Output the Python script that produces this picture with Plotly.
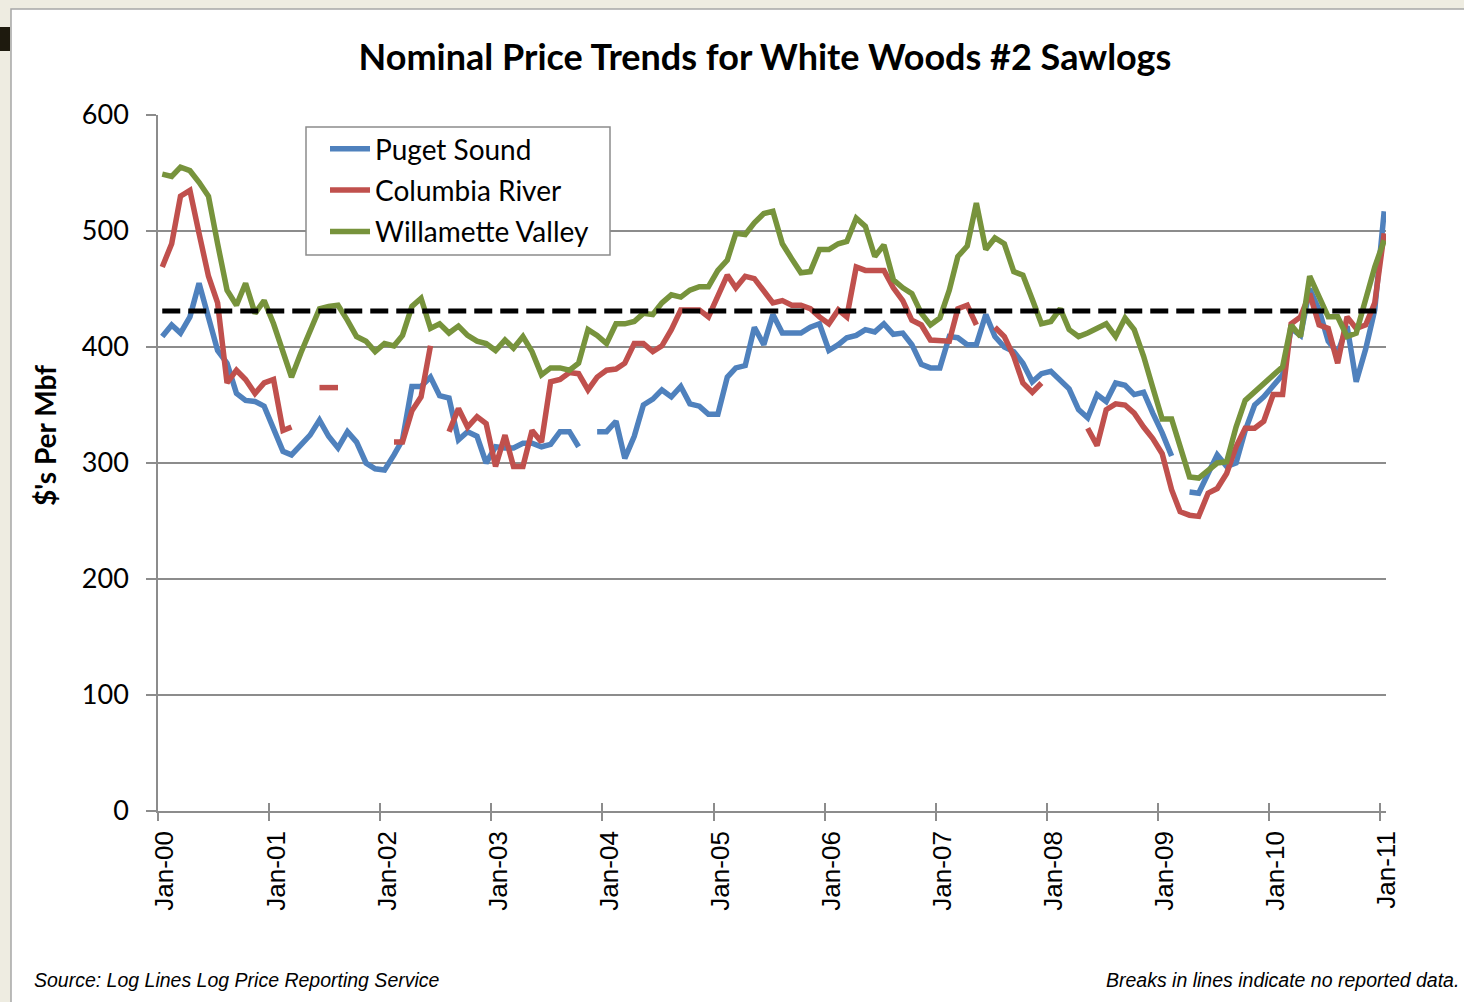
import pandas as pd
import plotly.graph_objects as go

# ---------------- data (monthly, Jan-2000 .. Jan-2011) ----------------
MONTHS = pd.date_range("2000-01-01", "2011-01-01", freq="MS") + pd.Timedelta(days=14)

PUGET_SOUND = [
    409, 419, 412, 426, 455, 426, 397, 386, 360, 354, 353, 349,   # 2000
    328, 310, 307, 316, 324, 337, 323, 313, 327, 318, 300, 295,   # 2001
    294, 307, 320, 366, 366, 374, 358, 356, 320, 327, 323, 300,   # 2002
    314, 313, 313, 317, 317, 314, 316, 327, 327, 314, None, 327,  # 2003
    327, 336, 304, 323, 350, 355, 363, 357, 366, 351, 349, 342,   # 2004
    342, 374, 382, 384, 417, 402, 428, 412, 412, 412, 417, 420,   # 2005
    397, 402, 408, 410, 415, 413, 420, 411, 412, 402, 385, 382,   # 2006
    382, 409, 408, 402, 402, 428, 409, 400, 396, 386, 370, 377,   # 2007
    379, 372, 364, 346, 339, 359, 353, 369, 367, 359, 361, 343,   # 2008
    326, 306, None, 275, 274, 291, 307, 297, 300, 328, 350, 357,  # 2009
    366, 376, 416, 410, 450, 432, 405, 395, 418, 370, 398, 432,   # 2010
    517,                                                          # 2011
]

COLUMBIA_RIVER = [
    469, 489, 530, 535, 498, 461, 438, 369, 380, 372, 360, 369,       # 2000
    372, 328, 331, None, None, 365, 365, 365, None, None, None, None, # 2001
    None, 318, 318, 345, 357, 401, None, 327, 347, 331, 340, 334,     # 2002
    297, 324, 297, 297, 328, 318, 370, 372, 378, 377, 363, 374,       # 2003
    380, 381, 386, 403, 403, 396, 401, 415, 432, 432, 432, 426,       # 2004
    443, 462, 451, 461, 459, 448, 438, 440, 436, 436, 433, 426,       # 2005
    420, 432, 426, 469, 466, 466, 466, 451, 440, 423, 419, 406,       # 2006
    405, 405, 433, 436, 419, None, 417, 409, 392, 369, 361, 369,      # 2007
    None, None, None, None, 330, 315, 346, 351, 350, 343, 331, 321,   # 2008
    308, 277, 258, 255, 254, 274, 278, 291, 314, 330, 330, 336,       # 2009
    359, 359, 420, 426, 446, 419, 416, 386, 426, 416, 419, 438,       # 2010
    498,                                                              # 2011
]

WILLAMETTE_VALLEY = [
    549, 547, 555, 552, 542, 530, 489, 449, 436, 455, 429, 440,   # 2000
    420, 395, 374, 395, 415, 433, 435, 436, 423, 409, 405, 396,   # 2001
    403, 401, 410, 435, 442, 416, 420, 412, 418, 410, 405, 403,   # 2002
    397, 406, 399, 409, 396, 376, 382, 382, 380, 386, 415, 410,   # 2003
    403, 420, 420, 422, 429, 428, 438, 445, 443, 449, 452, 452,   # 2004
    466, 475, 498, 497, 507, 515, 517, 489, 476, 464, 465, 484,   # 2005
    484, 489, 491, 511, 504, 478, 488, 458, 451, 446, 429, 419,   # 2006
    425, 449, 478, 487, 524, 484, 494, 489, 465, 462, 441, 420,   # 2007
    422, 433, 415, 409, 412, 416, 420, 409, 425, 415, 392, 365,   # 2008
    338, 338, 314, 288, 287, 294, 300, 301, 331, 354, 361, 369,   # 2009
    376, 383, 419, 409, 461, 443, 426, 426, 409, 412, 441, 469,   # 2010
    492,                                                          # 2011
]

AVERAGE_PRICE = 431

SERIES_NAMES = ["Puget Sound", "Columbia River", "Willamette Valley"]
SERIES_COLORS = ["#4F81BD", "#C0504D", "#77933C"]

TICK_DATES = ["2000-01-01", "2001-01-01", "2002-01-01", "2003-01-01", "2004-01-01",
              "2005-01-01", "2006-01-01", "2007-01-01", "2008-01-01", "2009-01-01",
              "2010-01-01", "2011-01-01"]
TICK_LABELS = ["Jan-00", "Jan-01", "Jan-02", "Jan-03", "Jan-04", "Jan-05",
               "Jan-06", "Jan-07", "Jan-08", "Jan-09", "Jan-10", "Jan-11"]
Y_TICKS = [0, 100, 200, 300, 400, 500, 600]

TITLE = "Nominal Price Trends for White Woods #2 Sawlogs"
Y_TITLE = "$'s Per Mbf"
SOURCE_NOTE = "Source: Log Lines Log Price Reporting Service"
BREAK_NOTE = "Breaks in lines indicate no reported data."

# ---------------- layout geometry (pixels) ----------------
W, H = 1464, 1002
ML, MR, MT, MB = 158, 78, 115, 191
PW, PH = W - ML - MR, H - MT - MB


def px(x):
    return (x - ML) / PW


def py(y):
    return (H - MB - y) / PH


GRID = "#8C8C8C"
X_RANGE = ["2000-01-01", "2011-01-21"]

fig = go.Figure()
for name, vals, col in zip(SERIES_NAMES, [PUGET_SOUND, COLUMBIA_RIVER, WILLAMETTE_VALLEY], SERIES_COLORS):
    fig.add_trace(go.Scatter(
        x=MONTHS, y=vals, name=name, mode="lines", legendgroup=name,
        line=dict(color=col, width=5.5), connectgaps=False,
    ))

fig.add_trace(go.Scatter(
    x=MONTHS, y=[AVERAGE_PRICE] * len(MONTHS), mode="lines", xaxis="x2",
    line=dict(color="black", width=5, dash="18px,8px"), showlegend=False,
    hoverinfo="skip",
))

fig.update_layout(
    width=W, height=H,
    margin=dict(l=ML, r=MR, t=MT, b=MB),
    paper_bgcolor="#EEECE1",
    plot_bgcolor="white",
    font=dict(family="Lato", color="black"),
    title=dict(text=TITLE, x=px(765), xref="paper", xanchor="center",
               y=1 - 57 / H, yref="container", yanchor="middle",
               font=dict(family="Lato", size=36, color="black", weight="bold")),
    xaxis=dict(
        type="date", range=X_RANGE,
        tickmode="array", tickvals=TICK_DATES, ticktext=TICK_LABELS,
        tickangle=-90, ticks="outside", ticklen=8, tickwidth=1.5, tickcolor=GRID,
        tickfont=dict(family="Liberation Sans", size=26, color="black"),
        ticklabelstandoff=0, ticklabelshift=7,
        showline=True, linecolor=GRID, linewidth=1.5,
        showgrid=False, zeroline=False,
    ),
    xaxis2=dict(
        type="date", range=X_RANGE, overlaying="x", matches="x", anchor="y",
        tickmode="array", tickvals=TICK_DATES,
        ticks="inside", ticklen=8, tickwidth=1.5, tickcolor=GRID,
        showticklabels=False, showline=False, showgrid=False, zeroline=False,
    ),
    yaxis=dict(
        range=[0, 600], tickmode="array", tickvals=Y_TICKS,
        ticks="outside", ticklen=10, tickwidth=1.5, tickcolor=GRID,
        tickfont=dict(family="Lato", size=27, color="black"),
        ticklabelstandoff=12,
        showline=True, linecolor=GRID, linewidth=1.5,
        showgrid=True, gridcolor=GRID, gridwidth=1.5, zeroline=False,
    ),
    legend=dict(
        x=px(325), y=py(124), xanchor="left", yanchor="top",
        bgcolor="rgba(0,0,0,0)", borderwidth=0,
        font=dict(family="Lato", size=28, color="black"),
        itemwidth=40, tracegroupgap=2,
    ),
    showlegend=True,
    shapes=[
        dict(type="rect", xref="paper", yref="paper", layer="below",
             x0=px(11), x1=px(W + 10), y0=py(H + 10), y1=py(9),
             fillcolor="white", line=dict(color="#A6A6A6", width=1.5)),
        dict(type="rect", xref="paper", yref="paper", layer="below",
             x0=px(-2), x1=px(10), y0=py(51), y1=py(27),
             fillcolor="#1E1A0E", line=dict(width=0)),
        dict(type="rect", xref="paper", yref="paper", layer="above",
             x0=px(306), x1=px(610), y0=py(255), y1=py(127),
             fillcolor="white", line=dict(color="#8C8C8C", width=1.5)),
    ],
    annotations=[
        dict(text=Y_TITLE, xref="paper", yref="paper", x=px(45), y=py(436),
             textangle=-90, showarrow=False, xanchor="center", yanchor="middle",
             font=dict(family="Lato", size=28, color="black", weight="bold")),
        dict(text="<i>" + SOURCE_NOTE + "</i>", xref="paper", yref="paper",
             x=px(32), y=py(980), xanchor="left", yanchor="middle", showarrow=False,
             font=dict(family="Liberation Sans", size=19.5, color="black")),
        dict(text="<i>" + BREAK_NOTE + "</i>", xref="paper", yref="paper",
             x=px(1461), y=py(980), xanchor="right", yanchor="middle", showarrow=False,
             font=dict(family="Liberation Sans", size=19.5, color="black")),
    ],
)

fig.write_html("out.html")
